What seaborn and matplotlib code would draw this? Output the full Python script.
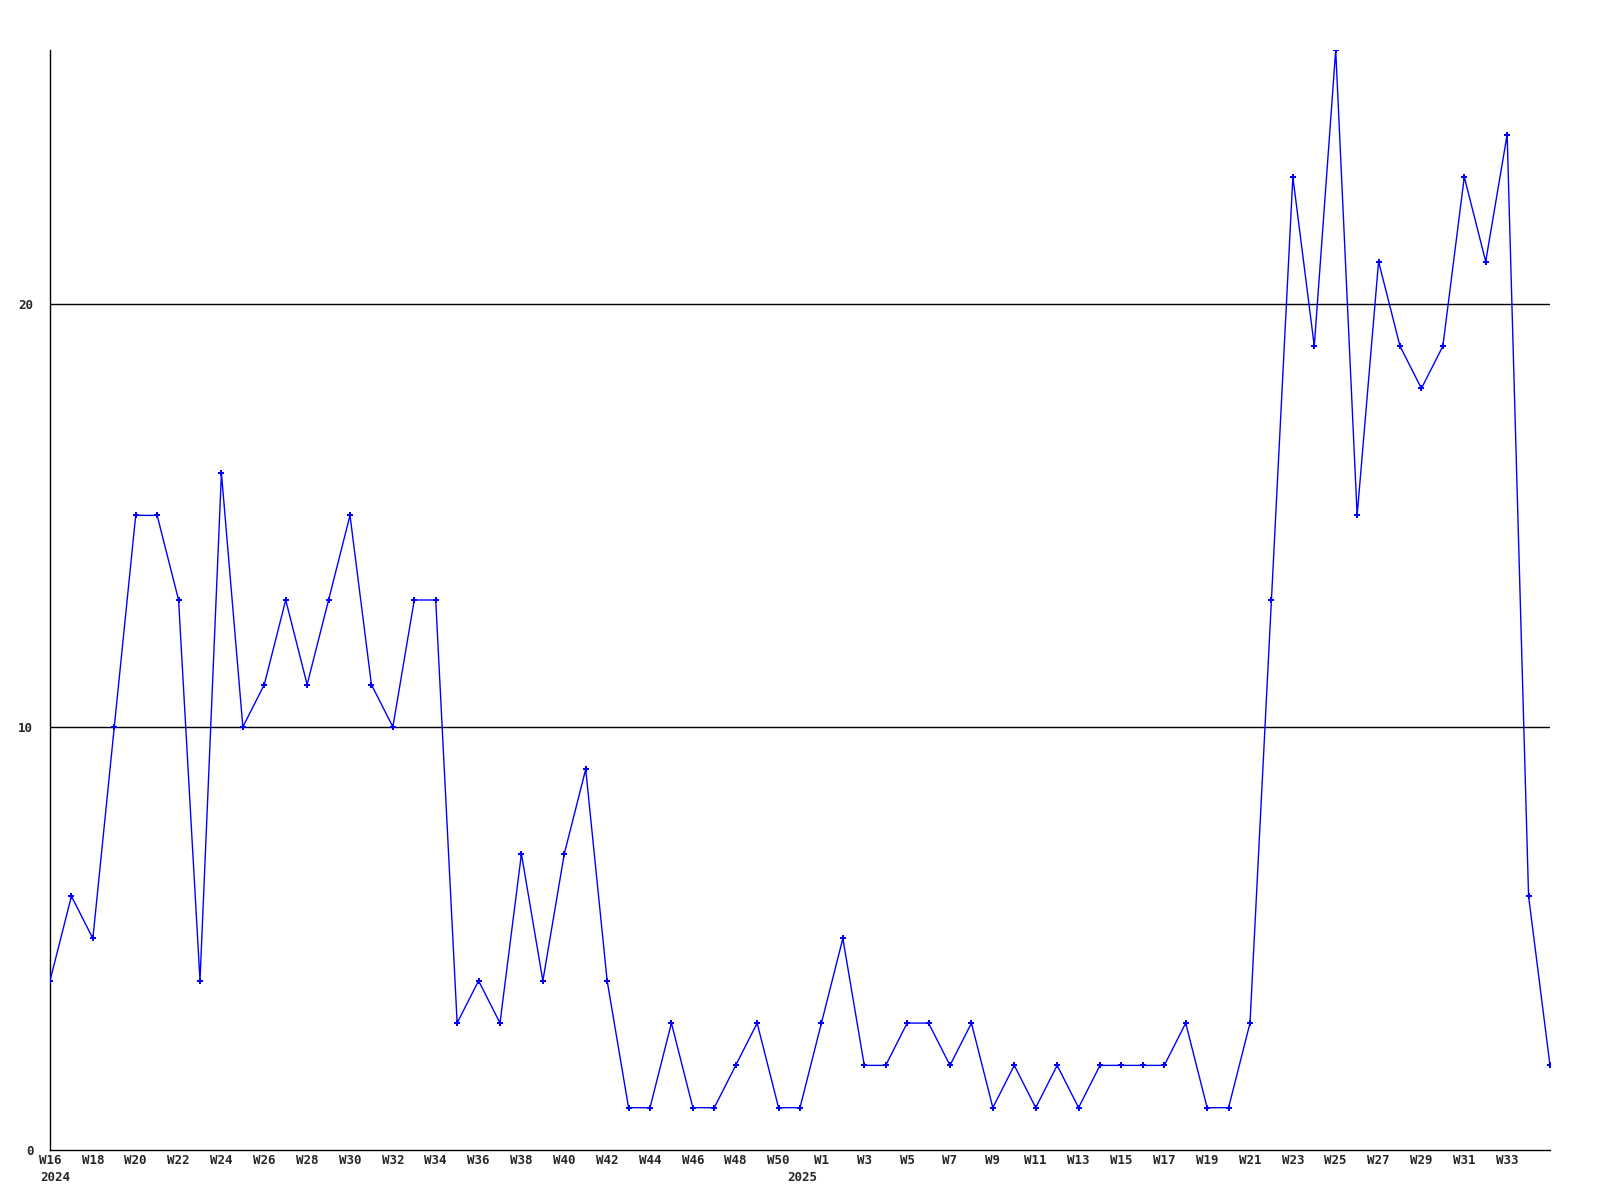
import numpy as np
import pandas as pd
import seaborn as sns
import matplotlib.pyplot as plt

# Weekly counts, W16 2024 .. W35 2025
weeks_2024 = ["W%d" % w for w in range(16, 52)]
weeks_2025 = ["W%d" % w for w in range(1, 36)]
weeks = weeks_2024 + weeks_2025

counts = [4, 6, 5, 10, 15, 15, 13, 4, 16, 10,
          11, 13, 11, 13, 15, 11, 10, 13, 13, 3,
          4, 3, 7, 4, 7, 9, 4, 1, 1, 3,
          1, 1, 2, 3, 1, 1, 3, 5, 2, 2,
          3, 3, 2, 3, 1, 2, 1, 2, 1, 2,
          2, 2, 2, 3, 1, 1, 3, 13, 23, 19,
          26, 15, 21, 19, 18, 19, 23, 21, 24, 6,
          2]

y_ticks = [0, 10, 20]
year_labels = ["2024", "2025"]

df = pd.DataFrame({"pos": np.arange(len(weeks)), "week": weeks, "count": counts})

sns.set_style("white")
plt.rcParams["font.family"] = ["DejaVu Sans Mono"]
plt.rcParams["font.weight"] = "bold"

fig = plt.figure(figsize=(16, 12), dpi=100)
ax = fig.add_axes([0.03125, 0.04167, 0.9375, 0.91667])

# Horizontal reference lines
for t in y_ticks[1:]:
    ax.axhline(t, color="black", linewidth=1, zorder=1)

sns.lineplot(data=df, x="pos", y="count", ax=ax, color="#0000ff",
             linewidth=1, marker="P", markersize=4.5, markeredgewidth=0,
             zorder=3)

ax.set_xlim(0, len(weeks) - 1)
ax.set_ylim(0, 26)

# every other week labelled, last week left blank
labelled = df.iloc[:-1:2]
ax.set_xticks(labelled["pos"])
ax.set_xticklabels(labelled["week"], fontsize=9, fontweight="bold")
ax.set_yticks(y_ticks)
ax.set_yticklabels([str(t) for t in y_ticks], fontsize=9, fontweight="bold")
ax.tick_params(axis="x", length=0, pad=3)
ax.tick_params(axis="y", length=0, pad=12)

ax.set_xlabel("")
ax.set_ylabel("")

for side in ["top", "right"]:
    ax.spines[side].set_visible(False)
for side in ["left", "bottom"]:
    ax.spines[side].set_color("black")
    ax.spines[side].set_linewidth(1)

# Year labels under the first week of each year
ax.text(-0.45, -0.5, year_labels[0], ha="left", va="top",
        fontsize=9, fontweight="bold")
ax.text(35.1, -0.5, year_labels[1], ha="center", va="top",
        fontsize=9, fontweight="bold")

fig.savefig("out.png", dpi=100)
